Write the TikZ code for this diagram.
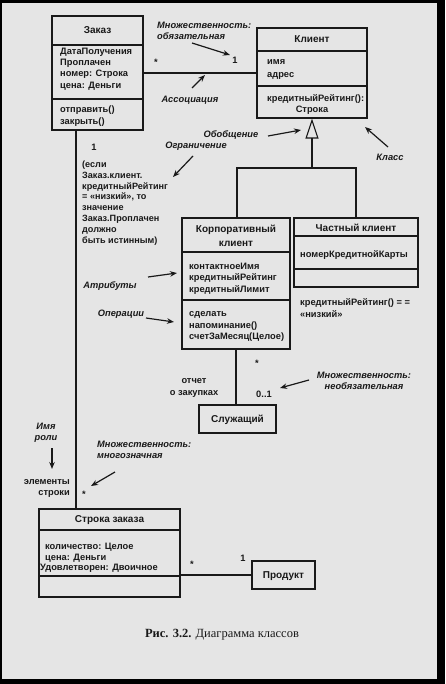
\documentclass[tikz,border=0pt]{standalone}
\usepackage{fontspec}
\setmainfont{Liberation Sans}
\newfontfamily\capfont{Liberation Serif}
\usetikzlibrary{arrows.meta}
\definecolor{paper}{gray}{0.9}
\definecolor{ink}{gray}{0.1}
\begin{document}
\begin{tikzpicture}[x=1pt,y=-1pt,
  umlbox/.style={draw=ink, line width=1.1pt, inner sep=0pt},
  div/.style={draw=ink, line width=1.1pt},
  conn/.style={draw=ink, line width=1.1pt},
  txt/.style={font=\fontsize{9.3}{11.3}\selectfont\bfseries, inner sep=0pt, text=ink, align=left},
  ttl/.style={font=\fontsize{10}{14}\selectfont\bfseries, inner sep=0pt, text=ink, align=center},
  note/.style={font=\fontsize{9.3}{11}\selectfont\bfseries\itshape, inner sep=0pt, text=ink},
  ann/.style={-{Stealth[length=7pt,width=5.5pt]}, line width=1.2pt, draw=ink}]
% page
\fill[paper] (0,0) rectangle (445,684);
\fill[black] (0,0) rectangle (445,3);
\fill[black] (437,0) rectangle (445,684);
\fill[black] (0,679) rectangle (445,684);
\fill[black] (0,0) rectangle (2,684);
\useasboundingbox (0,0) rectangle (445,684);

% ---------- classes ----------
\node[umlbox, minimum width=91pt, minimum height=114pt] (zakaz) at (97.5,73) {};
\draw[div] (zakaz.west |- 0,45) -- (zakaz.east |- 0,45);
\draw[div] (zakaz.west |- 0,99) -- (zakaz.east |- 0,99);
\node[ttl] (zakazT) at (97.5,30) {Заказ};
\node[txt, anchor=west] (zakazA) at (60,69) {ДатаПолучения\\Проплачен\\номер: Строка\\цена: Деньги};
\node[txt, anchor=west] (zakazO) at (60,116) {отправить()\\закрыть()};

\node[umlbox, minimum width=110pt, minimum height=90pt] (klient) at (312,73) {};
\draw[div] (klient.west |- 0,51) -- (klient.east |- 0,51);
\draw[div] (klient.west |- 0,86) -- (klient.east |- 0,86);
\node[ttl] (klientT) at (312,39) {Клиент};
\node[txt, anchor=west, font=\fontsize{9.3}{12.5}\selectfont\bfseries] (klientA) at (267,69.5) {имя\\адрес};
\node[txt, anchor=west] (klientO1) at (267,99) {кредитныйРейтинг():};
\node[txt] (klientO2) at (312,110) {Строка};

\node[umlbox, minimum width=108pt, minimum height=131pt] (corp) at (236,283.5) {};
\draw[div] (corp.west |- 0,252) -- (corp.east |- 0,252);
\draw[div] (corp.west |- 0,300) -- (corp.east |- 0,300);
\node[ttl] (corpT) at (236,236) {Корпоративный\\клиент};
\node[txt, anchor=west] (corpA) at (189,278.5) {контактноеИмя\\кредитныйРейтинг\\кредитныйЛимит};
\node[txt, anchor=west] (corpO) at (189,326.5) {сделать\\напоминание()\\счетЗаМесяц(Целое)};

\node[umlbox, minimum width=124pt, minimum height=69pt] (chast) at (356,252.5) {};
\draw[div] (chast.west |- 0,236) -- (chast.east |- 0,236);
\draw[div] (chast.west |- 0,269) -- (chast.east |- 0,269);
\node[ttl] (chastT) at (356,228) {Частный клиент};
\node[txt, anchor=west] (chastA) at (300,255) {номерКредитнойКарты};

\node[umlbox, minimum width=77pt, minimum height=28pt] (sluzh) at (237.5,419) {};
\node[ttl] (sluzhT) at (237.5,420) {Служащий};

\node[umlbox, minimum width=141pt, minimum height=88pt] (stroka) at (109.5,553) {};
\draw[div] (stroka.west |- 0,530) -- (stroka.east |- 0,530);
\draw[div] (stroka.west |- 0,576) -- (stroka.east |- 0,576);
\node[ttl] (strokaT) at (109.5,520) {Строка заказа};
\node[txt, anchor=west] (strokaA1) at (45,547) {количество: Целое};
\node[txt, anchor=west] (strokaA2) at (45,558) {цена: Деньги};
\node[txt, anchor=west] (strokaA3) at (40,568) {Удовлетворен: Двоичное};

\node[umlbox, minimum width=63pt, minimum height=28pt] (produkt) at (283.5,575) {};
\node[ttl] (produktT) at (283.5,576) {Продукт};

% ---------- connectors ----------
\draw[conn] (zakaz.east) -- (klient.west);
\coordinate (zx) at (76,0);
\draw[conn] (zakaz.south -| zx) -- (stroka.north -| zx);
\coordinate (gen) at (312,168);
\draw[conn] (corp.north -| 237,0) |- (gen) -| (chast.north);
\draw[conn, -{Triangle[open, length=20pt, width=13pt, line width=1.1pt]}] (gen) -- (klient.south);
\draw[conn] (corp.south) -- (corp.south |- sluzh.north);
\draw[conn] (produkt.west) -- (produkt.west -| stroka.east);

% ---------- multiplicities and role names ----------
\node[txt] (m1) at (156,62) {*};
\node[txt] (m2) at (235,60) {1};
\node[txt] (m3) at (94,147) {1};
\node[txt] (m4) at (257,363) {*};
\node[txt] (m5) at (264,394) {0..1};
\node[txt, align=center] (role1) at (194,388) {отчет\\о закупках};
\node[txt, align=right, anchor=east] (role2) at (70,488.5) {элементы\\строки};
\node[txt] (m6) at (84,494) {*};
\node[txt] (m7) at (192,564) {*};
\node[txt] (m8) at (243,558) {1};

% ---------- constraint ----------
\node[txt, anchor=west, font=\fontsize{9.1}{10.9}\selectfont\bfseries] (constr) at (82,203) {(если\\Заказ.клиент.\\кредитныйРейтинг\\= «низкий», то\\значение\\Заказ.Проплачен\\должно\\быть истинным)};
\node[txt, anchor=west] (constr2) at (300,308) {кредитныйРейтинг() = =\\«низкий»};

% ---------- annotations ----------
\node[note, align=left, anchor=west] (n1) at (157,30.5) {Множественность:\\обязательная};
\coordinate (a1s) at (192,43); \coordinate (a1e) at (230,55);
\draw[ann] (a1s) -- (a1e);
\node[note] (n2) at (190,100) {Ассоциация};
\coordinate (a2s) at (192,88); \coordinate (a2e) at (205,75);
\draw[ann] (a2s) -- (a2e);
\node[note] (n3) at (231,135) {Обобщение};
\coordinate (a3s) at (268,136); \coordinate (a3e) at (301,130);
\draw[ann] (a3s) -- (a3e);
\node[note] (n4) at (390,157) {Класс};
\coordinate (a4s) at (388,147); \coordinate (a4e) at (365,127);
\draw[ann] (a4s) -- (a4e);
\node[note] (n5) at (196,146) {Ограничение};
\coordinate (a5s) at (193,156); \coordinate (a5e) at (173,177);
\draw[ann] (a5s) -- (a5e);
\node[note] (n6) at (110,286) {Атрибуты};
\coordinate (a6s) at (148,277); \coordinate (a6e) at (177,273);
\draw[ann] (a6s) -- (a6e);
\node[note] (n7) at (121,314) {Операции};
\coordinate (a7s) at (146,318); \coordinate (a7e) at (174,322);
\draw[ann] (a7s) -- (a7e);
\node[note, align=center] (n8) at (364,381) {Множественность:\\необязательная};
\coordinate (a8s) at (309,380); \coordinate (a8e) at (280,388);
\draw[ann] (a8s) -- (a8e);
\node[note, align=center] (n9) at (46,432.5) {Имя\\роли};
\coordinate (a9s) at (52,448); \coordinate (a9e) at (52,469);
\draw[ann] (a9s) -- (a9e);
\node[note, align=left, anchor=west] (n10) at (97,450) {Множественность:\\многозначная};
\coordinate (a10s) at (115,472); \coordinate (a10e) at (91,486);
\draw[ann] (a10s) -- (a10e);

% ---------- caption ----------
\node[inner sep=0pt, text=ink, font=\capfont\fontsize{12.5}{14}\selectfont] (cap) at (222,635) {\textbf{Рис. 3.2.} Диаграмма классов};
\end{tikzpicture}
\end{document}
